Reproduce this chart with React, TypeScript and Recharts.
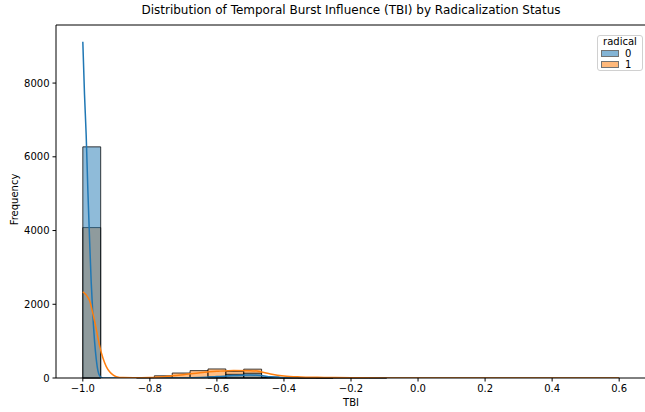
import React from 'react';
import { ComposedChart, XAxis, YAxis, Line, ReferenceArea, ReferenceLine } from 'recharts';

// histogram: 30 equal bins between the data min and max
const BIN_MIN = -1.0;
const BIN_MAX = 0.6;
const BIN_COUNT = 30;

const radical0Counts = [
  6270, 0, 0, 0, 0, 0, 0, 30, 100, 130,
  15, 4, 2, 1, 0, 0, 0, 0, 0, 0,
  0, 0, 0, 0, 0, 0, 0, 0, 0, 0,
];
const radical1Counts = [
  4080, 0, 0, 10, 60, 135, 200, 245, 175, 240,
  25, 15, 10, 6, 4, 2, 1, 0, 0, 0,
  0, 0, 0, 0, 0, 0, 0, 0, 0, 0,
];

// kde curves (x, count)
const radical0Kde = [
  { x: -1.0, y: 9120 }, { x: -0.995, y: 7700 }, { x: -0.99, y: 6600 },
  { x: -0.985, y: 5100 }, { x: -0.98, y: 3800 }, { x: -0.975, y: 2600 },
  { x: -0.97, y: 1700 }, { x: -0.965, y: 1000 }, { x: -0.96, y: 520 },
  { x: -0.955, y: 200 }, { x: -0.95, y: 60 }, { x: -0.945, y: 12 },
  { x: -0.94, y: 2 }, { x: -0.9, y: 0 }, { x: -0.75, y: 0 },
  { x: -0.7, y: 3 }, { x: -0.65, y: 15 }, { x: -0.6, y: 38 },
  { x: -0.55, y: 65 }, { x: -0.5, y: 82 }, { x: -0.47, y: 68 },
  { x: -0.44, y: 32 }, { x: -0.4, y: 9 }, { x: -0.3, y: 2 },
  { x: -0.2, y: 1 }, { x: 0.0, y: 0 }, { x: 0.6, y: 0 },
];
const radical1Kde = [
  { x: -1.0, y: 2340 }, { x: -0.99, y: 2250 }, { x: -0.98, y: 2100 },
  { x: -0.97, y: 1750 }, { x: -0.96, y: 1330 }, { x: -0.95, y: 880 },
  { x: -0.94, y: 540 }, { x: -0.93, y: 310 }, { x: -0.92, y: 170 },
  { x: -0.91, y: 85 }, { x: -0.9, y: 38 }, { x: -0.88, y: 12 },
  { x: -0.85, y: 8 }, { x: -0.8, y: 15 }, { x: -0.75, y: 45 },
  { x: -0.7, y: 90 }, { x: -0.65, y: 140 }, { x: -0.6, y: 180 },
  { x: -0.55, y: 205 }, { x: -0.5, y: 200 }, { x: -0.47, y: 170 },
  { x: -0.44, y: 110 }, { x: -0.4, y: 55 }, { x: -0.35, y: 30 },
  { x: -0.3, y: 20 }, { x: -0.25, y: 12 }, { x: -0.2, y: 6 },
  { x: -0.1, y: 2 }, { x: 0.0, y: 1 }, { x: 0.2, y: 0 }, { x: 0.6, y: 0 },
];

const xTicks = [-1.0, -0.8, -0.6, -0.4, -0.2, 0.0, 0.2, 0.4, 0.6];
const yTicks = [0, 2000, 4000, 6000, 8000];

const series = [
  { name: '0', color: '#1f77b4', counts: radical0Counts, kde: radical0Kde },
  { name: '1', color: '#ff7f0e', counts: radical1Counts, kde: radical1Kde },
];

const binWidth = (BIN_MAX - BIN_MIN) / BIN_COUNT;
const Y_MAX = 9575;
const FONT = '"DejaVu Sans", sans-serif';
const fmt = (v: number) => v.toFixed(1).replace('-', '\u2212');

export default function App() {
  // seaborn layers hue level 1 under level 0
  const drawOrder = [...series].reverse();
  return (
    <div style={{ position: 'absolute', left: 0, top: 0, width: 645, height: 412, background: '#fff', fontFamily: FONT }}>
      <div style={{ position: 'absolute', top: 3, left: 56, width: 590, textAlign: 'center', fontSize: 12, color: '#000' }}>
        Distribution of Temporal Burst Influence (TBI) by Radicalization Status
      </div>
      <ComposedChart width={645} height={412} margin={{ top: 25, right: -1, bottom: 0, left: 0 }}>
        <XAxis
          dataKey="x"
          type="number"
          domain={[-1.08, 0.68]}
          ticks={xTicks}
          tickFormatter={fmt}
          allowDataOverflow
          height={34}
          tickSize={3.5}
          tickMargin={3}
          stroke="#000"
          tick={{ fill: '#000', fontSize: 10, fontFamily: FONT }}
        />
        <YAxis
          type="number"
          domain={[0, Y_MAX]}
          ticks={yTicks}
          allowDataOverflow
          width={56}
          tickSize={3.5}
          tickMargin={3}
          stroke="#000"
          tick={{ fill: '#000', fontSize: 10, fontFamily: FONT }}
        />
        {drawOrder.map((s) =>
          s.counts.map((c, i) =>
            c > 0 ? (
              <ReferenceArea
                key={s.name + '-' + i}
                x1={BIN_MIN + i * binWidth}
                x2={BIN_MIN + (i + 1) * binWidth}
                y1={0}
                y2={c}
                fill={s.color}
                fillOpacity={0.5}
                stroke="#000"
                strokeOpacity={0.75}
                strokeWidth={1}
                ifOverflow="visible"
              />
            ) : null
          )
        )}
        {series.map((s) => (
          <Line
            key={'kde-' + s.name}
            data={s.kde}
            dataKey="y"
            type="monotone"
            stroke={s.color}
            strokeWidth={1.5}
            dot={false}
            activeDot={false}
            isAnimationActive={false}
          />
        ))}
        {/* top spine */}
        <ReferenceLine y={Y_MAX} stroke="#000" strokeWidth={1} ifOverflow="visible" />
      </ComposedChart>
      <div style={{ position: 'absolute', left: 351 - 40, width: 80, top: 397, textAlign: 'center', fontSize: 10, color: '#000' }}>
        TBI
      </div>
      <div style={{ position: 'absolute', left: 14 - 40, top: 201 - 7, width: 80, textAlign: 'center', fontSize: 10, color: '#000', transform: 'rotate(-90deg)' }}>
        Frequency
      </div>
      <div style={{ position: 'absolute', left: 597, top: 35, width: 46, height: 36, border: '1px solid #d0d0d0', borderRadius: 3, boxSizing: 'border-box', fontSize: 10, color: '#000', background: 'rgba(255,255,255,0.8)' }}>
        <div style={{ textAlign: 'center', lineHeight: '12px', marginTop: 0 }}>radical</div>
        {series.map((s) => (
          <div key={'lg-' + s.name} style={{ display: 'flex', alignItems: 'center', height: 11, marginLeft: 3 }}>
            <span style={{ display: 'inline-block', width: 16, height: 5, background: s.color, opacity: 0.55, border: '1px solid #000' }} />
            <span style={{ marginLeft: 6, lineHeight: '11px' }}>{s.name}</span>
          </div>
        ))}
      </div>
    </div>
  );
}
